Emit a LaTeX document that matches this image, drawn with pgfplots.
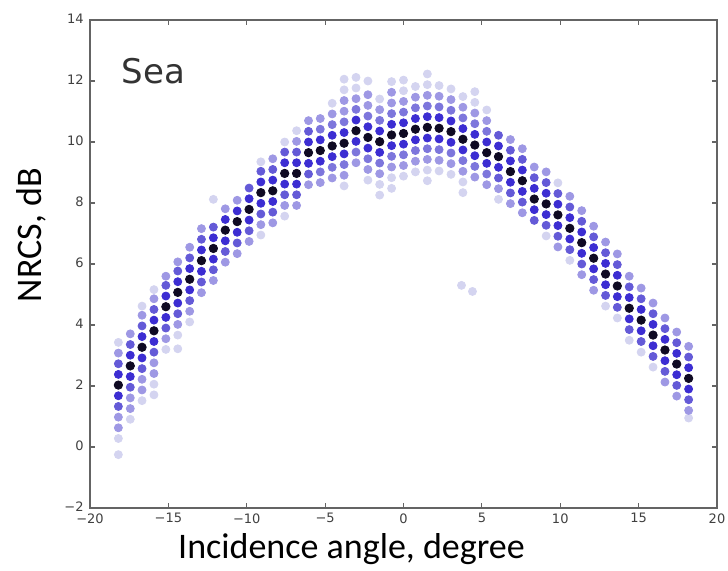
\documentclass[border=0pt]{standalone}
\usepackage{fontspec}
\setmainfont{Carlito}
\newfontfamily\dejavu{DejaVu Sans}
\usepackage{pgfplots}
\pgfplotsset{compat=1.18}
\definecolor{cblack}{RGB}{15,10,35}
\definecolor{cdarkA}{RGB}{60,45,210}
\definecolor{cdarkB}{RGB}{100,90,215}
\definecolor{cmedB}{RGB}{125,118,220}
\definecolor{cmed}{RGB}{158,152,228}
\definecolor{clight}{RGB}{212,212,240}
\definecolor{cframe}{RGB}{100,100,100}
\begin{document}
\begin{tikzpicture}
\begin{axis}[
  scale only axis,
  width=313.5pt, height=244pt,
  xmin=-20, xmax=20, ymin=-2, ymax=14,
  xtick={-20,-15,-10,-5,0,5,10,15,20},
  xticklabels={−20,−15,−10,−5,0,5,10,15,20},
  ytick={-2,0,2,4,6,8,10,12,14},
  yticklabels={−2,0,2,4,6,8,10,12,14},
  tick align=inside,
  major tick length=2.5pt,
  axis line style={draw=cframe, line width=0.8pt},
  every tick/.style={draw=cframe, line width=0.6pt},
  tick label style={font=\dejavu\fontsize{6.5}{7}\selectfont, text=black!75},
  xticklabel style={inner sep=1pt, yshift=-1.5pt},
  yticklabel style={inner sep=1pt, xshift=-2pt, yshift=0.5pt},
  xlabel={Incidence angle, degree},
  ylabel={NRCS, dB},
  label style={font=\fontsize{18}{20}\selectfont},
  xlabel style={at={(axis description cs:0.417,-0.1025)}, anchor=base},
  ylabel style={at={(axis description cs:-0.0766,0.559)}, anchor=base},
  clip=true,
]
\addplot[only marks, mark=*, mark size=2pt, color=clight] coordinates {
(-18.19,3.43) (-18.19,0.28) (-18.19,-0.25)
(-17.43,0.91)
(-16.68,4.62) (-16.68,1.52)
(-15.92,5.16) (-15.92,2.06) (-15.92,1.71)
(-15.16,3.20)
(-14.40,3.67) (-14.40,3.22)
(-13.64,4.10)
(-12.13,8.12)
(-9.10,9.35) (-9.10,6.95)
(-7.58,10.0) (-7.58,7.57)
(-6.82,10.37)
(-4.55,11.27)
(-3.79,11.71) (-3.79,12.06) (-3.79,8.56)
(-3.03,11.77) (-3.03,12.12)
(-2.27,12.0) (-2.27,8.75)
(-1.52,11.41) (-1.52,8.61) (-1.52,8.26)
(-0.76,11.98) (-0.76,8.83) (-0.76,8.48)
(0,11.68) (0,12.03) (0,8.88)
(0.76,11.82) (0.76,9.02)
(1.52,11.88) (1.52,12.23) (1.52,9.08) (1.52,8.73)
(2.27,11.85) (2.27,9.05)
(3.03,11.74) (3.03,8.94)
(3.79,11.49) (3.79,8.69) (3.79,8.34) (3.7,5.3)
(4.55,11.30) (4.55,11.65) (4.4,5.1)
(5.31,11.05)
(6.06,8.12)
(9.10,6.92)
(9.85,8.66)
(10.61,6.12)
(12.89,4.62)
(13.64,4.23)
(14.40,3.50)
(15.16,3.11)
(15.92,2.62)
(18.19,0.95)
};
\addplot[only marks, mark=*, mark size=2pt, color=cmed] coordinates {
(-18.19,3.08) (-18.19,0.98) (-18.19,0.63)
(-17.43,3.71) (-17.43,1.61) (-17.43,1.26)
(-16.68,4.32) (-16.68,2.22) (-16.68,1.87)
(-15.92,4.86) (-15.92,2.76) (-15.92,2.41)
(-15.16,5.60) (-15.16,3.55)
(-14.40,6.07) (-14.40,4.02)
(-13.64,6.55) (-13.64,4.45)
(-12.89,7.16) (-12.89,5.06)
(-12.13,5.46)
(-11.37,7.81) (-11.37,6.06)
(-10.61,8.09) (-10.61,6.34)
(-9.85,6.74)
(-9.10,7.29)
(-8.34,9.45) (-8.34,7.35)
(-7.58,7.92)
(-6.82,10.02) (-6.82,7.92)
(-6.06,10.70) (-6.06,8.60)
(-5.31,10.77) (-5.31,8.67)
(-4.55,10.92) (-4.55,8.82)
(-3.79,11.01) (-3.79,11.36) (-3.79,8.91)
(-3.03,11.42) (-3.03,9.32)
(-2.27,11.20) (-2.27,11.55) (-2.27,9.10)
(-1.52,11.06) (-1.52,8.96)
(-0.76,11.28) (-0.76,11.63) (-0.76,9.18)
(0,11.33) (0,9.23)
(0.76,11.47) (0.76,9.37)
(1.52,11.53) (1.52,9.43)
(2.27,11.50) (2.27,9.40)
(3.03,11.39) (3.03,9.29)
(3.79,11.14) (3.79,9.04)
(4.55,10.95) (4.55,8.85)
(5.31,10.70) (5.31,8.60)
(6.06,8.47)
(6.82,10.08) (6.82,7.98)
(7.58,9.78) (7.58,7.68)
(8.34,9.18)
(9.10,9.02)
(9.85,6.56)
(10.61,8.22)
(11.37,7.75) (11.37,5.65)
(12.13,7.24) (12.13,5.14)
(12.89,6.72)
(13.64,6.33)
(14.40,5.60)
(15.16,5.21)
(15.92,4.72)
(16.68,4.23) (16.68,2.13)
(17.43,3.77) (17.43,1.67)
(18.19,3.30) (18.19,1.20)
};
\addplot[only marks, mark=*, mark size=2pt, color=cmedB] coordinates {
(-5.31,10.42) (-5.31,9.02)
(-4.55,10.57) (-4.55,9.17)
(-3.79,10.66) (-3.79,9.26)
(-3.03,11.07) (-3.03,9.67)
(-2.27,10.85) (-2.27,9.45)
(-1.52,10.71) (-1.52,9.31)
(-0.76,10.93) (-0.76,9.53)
(0,10.98) (0,9.58)
(0.76,11.12) (0.76,9.72)
(1.52,11.18) (1.52,9.78)
(2.27,11.15) (2.27,9.75)
(3.03,11.04) (3.03,9.64)
(3.79,10.79) (3.79,9.39)
(4.55,10.60) (4.55,9.20)
(5.31,10.35) (5.31,8.95)
};
\addplot[only marks, mark=*, mark size=2pt, color=cdarkB] coordinates {
(-18.19,2.73) (-18.19,1.33)
(-17.43,3.36) (-17.43,1.96)
(-16.68,3.97) (-16.68,2.57)
(-15.92,4.51) (-15.92,3.11)
(-15.16,5.30) (-15.16,3.90)
(-14.40,5.77) (-14.40,4.37)
(-13.64,6.20) (-13.64,4.80)
(-12.89,6.81) (-12.89,5.41)
(-12.13,7.21) (-12.13,5.81)
(-11.37,6.41)
(-10.61,6.69)
(-9.85,8.49) (-9.85,7.09)
(-9.10,9.04) (-9.10,7.64)
(-8.34,9.10) (-8.34,7.70)
(-7.58,9.67) (-7.58,8.27)
(-6.82,9.67) (-6.82,8.27)
(-6.06,10.35) (-6.06,8.95)
(6.06,10.22) (6.06,8.82)
(6.82,9.73) (6.82,8.33)
(7.58,9.43) (7.58,8.03)
(8.34,8.83) (8.34,7.43)
(9.10,8.67) (9.10,7.27)
(9.85,8.31) (9.85,6.91)
(10.61,7.87) (10.61,6.47)
(11.37,7.40) (11.37,6.00)
(12.13,6.89) (12.13,5.49)
(12.89,6.37) (12.89,4.97)
(13.64,5.98) (13.64,4.58)
(14.40,5.25) (14.40,3.85)
(15.16,4.86) (15.16,3.46)
(15.92,4.37) (15.92,2.97)
(16.68,3.88) (16.68,2.48)
(17.43,3.42) (17.43,2.02)
(18.19,2.95) (18.19,1.55)
};
\addplot[only marks, mark=*, mark size=2pt, color=cdarkA] coordinates {
(-18.19,2.38) (-18.19,1.68)
(-17.43,3.01) (-17.43,2.31)
(-16.68,3.62) (-16.68,2.92)
(-15.92,4.16) (-15.92,3.46)
(-15.16,4.95) (-15.16,4.25)
(-14.40,5.42) (-14.40,4.72)
(-13.64,5.85) (-13.64,5.15)
(-12.89,6.46) (-12.89,5.76)
(-12.13,6.86) (-12.13,6.16)
(-11.37,7.46) (-11.37,6.76)
(-10.61,7.74) (-10.61,7.04)
(-9.85,8.14) (-9.85,7.44)
(-9.10,8.69) (-9.10,7.99)
(-8.34,8.75) (-8.34,8.05)
(-7.58,9.32) (-7.58,8.62)
(-6.82,9.32) (-6.82,8.62)
(-6.06,10.00) (-6.06,9.30)
(-5.31,10.07) (-5.31,9.37)
(-4.55,10.22) (-4.55,9.52)
(-3.79,10.31) (-3.79,9.61)
(-3.03,10.72) (-3.03,10.02)
(-2.27,10.50) (-2.27,9.80)
(-1.52,10.36) (-1.52,9.66)
(-0.76,10.58) (-0.76,9.88)
(0,10.63) (0,9.93)
(0.76,10.77) (0.76,10.07)
(1.52,10.83) (1.52,10.13)
(2.27,10.80) (2.27,10.10)
(3.03,10.69) (3.03,9.99)
(3.79,10.44) (3.79,9.74)
(4.55,10.25) (4.55,9.55)
(5.31,10.00) (5.31,9.30)
(6.06,9.87) (6.06,9.17)
(6.82,9.38) (6.82,8.68)
(7.58,9.08) (7.58,8.38)
(8.34,8.48) (8.34,7.78)
(9.10,8.32) (9.10,7.62)
(9.85,7.96) (9.85,7.26)
(10.61,7.52) (10.61,6.82)
(11.37,7.05) (11.37,6.35)
(12.13,6.54) (12.13,5.84)
(12.89,6.02) (12.89,5.32)
(13.64,5.63) (13.64,4.93)
(14.40,4.90) (14.40,4.20)
(15.16,4.51) (15.16,3.81)
(15.92,4.02) (15.92,3.32)
(16.68,3.53) (16.68,2.83)
(17.43,3.07) (17.43,2.37)
(18.19,2.60) (18.19,1.90)
};
\addplot[only marks, mark=*, mark size=2.1pt, color=cblack] coordinates {
(-18.19,2.03) (-17.43,2.66) (-16.68,3.27) (-15.92,3.81) (-15.16,4.60)
(-14.40,5.07) (-13.64,5.50) (-12.89,6.11) (-12.13,6.51) (-11.37,7.11)
(-10.61,7.39) (-9.85,7.79) (-9.10,8.34) (-8.34,8.40) (-7.58,8.97)
(-6.82,8.97) (-6.06,9.65) (-5.31,9.72) (-4.55,9.87) (-3.79,9.96)
(-3.03,10.37) (-2.27,10.15) (-1.52,10.01) (-0.76,10.23) (0,10.28)
(0.76,10.42) (1.52,10.48) (2.27,10.45) (3.03,10.34) (3.79,10.09)
(4.55,9.90) (5.31,9.65) (6.06,9.52) (6.82,9.03) (7.58,8.73)
(8.34,8.13) (9.10,7.97) (9.85,7.61) (10.61,7.17) (11.37,6.70)
(12.13,6.19) (12.89,5.67) (13.64,5.28) (14.40,4.55) (15.16,4.16)
(15.92,3.67) (16.68,3.18) (17.43,2.72) (18.19,2.25)
};
\node[anchor=base west, inner sep=0pt, text=black!80, font=\dejavu\fontsize{17}{20}\selectfont] at (axis cs:-18,11.93) {Sea};
\end{axis}
\path (current axis.south west) ++(-45pt,-29pt) rectangle ([shift={(5.5pt,10pt)}]current axis.north east);
\end{tikzpicture}
\end{document}
